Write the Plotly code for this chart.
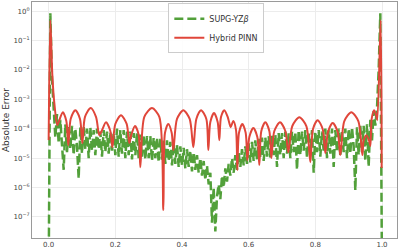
import numpy as np
import plotly.graph_objects as go

# ---------------- data ----------------
x_ticks = [0.0, 0.2, 0.4, 0.6, 0.8, 1.0]
x_tick_labels = ["0.0", "0.2", "0.4", "0.6", "0.8", "1.0"]
y_tick_exps = [0, -1, -2, -3, -4, -5, -6, -7]
y_tick_labels = ["10<sup>0</sup>", "10<sup>−1</sup>", "10<sup>−2</sup>", "10<sup>−3</sup>",
                 "10<sup>−4</sup>", "10<sup>−5</sup>", "10<sup>−6</sup>", "10<sup>−7</sup>"]

# SUPG-YZbeta: absolute error (log10) on a uniform mesh of 201 nodes on [0, 1]
supg_x = np.linspace(0.0, 1.0, 201)
supg_log10_err = [
    -9.0, -0.07, -2.3, -3.2, -4.3, -3.5, -4.5, -3.7, -4.6, -5.4,
    -3.85, -4.8, -3.95, -4.7, -3.9, -4.9, -4.0, -4.6, -5.7, -3.95,
    -4.85, -3.9, -4.7, -4.0, -5.0, -3.95, -4.75, -4.05, -4.9, -4.0,
    -4.7, -4.1, -4.95, -4.05, -4.8, -4.1, -4.85, -4.1, -4.75, -4.15,
    -4.9, -4.0, -4.95, -4.05, -4.85, -4.05, -5.0, -4.1, -4.9, -4.1,
    -5.05, -4.15, -4.9, -4.15, -5.0, -4.2, -4.95, -4.2, -5.05, -4.25,
    -5.0, -4.25, -5.1, -4.3, -5.0, -4.3, -5.15, -4.35, -5.05, -4.4,
    -5.2, -4.4, -5.1, -4.45, -5.25, -4.5, -5.2, -4.55, -5.3, -4.6,
    -5.25, -4.65, -5.35, -4.7, -5.3, -4.75, -5.45, -4.8, -5.4, -4.9,
    -5.5, -5.0, -5.6, -5.1, -5.75, -5.25, -5.9, -5.5, -7.2, -6.0,
    -7.5, -6.3, -5.9, -6.4, -5.6, -6.0, -5.35, -5.8, -5.2, -5.6,
    -5.0, -5.5, -4.9, -5.4, -4.8, -5.3, -4.7, -5.25, -4.6, -5.2,
    -4.5, -5.15, -4.45, -5.1, -4.4, -5.05, -4.35, -5.0, -4.3, -5.1,
    -4.3, -4.95, -4.25, -5.05, -4.2, -4.9, -4.2, -5.3, -4.15, -4.9,
    -4.15, -5.0, -4.1, -4.85, -4.15, -5.0, -4.1, -4.8, -4.1, -5.4,
    -4.05, -4.9, -4.1, -4.75, -4.05, -5.0, -4.1, -4.85, -4.05, -5.5,
    -4.1, -4.8, -4.05, -4.95, -4.1, -4.75, -4.0, -5.0, -4.05, -4.85,
    -4.0, -5.3, -4.05, -4.8, -4.0, -4.95, -4.05, -4.8, -4.0, -5.0,
    -4.0, -4.85, -3.95, -4.6, -6.1, -3.95, -4.9, -3.9, -4.8, -3.9,
    -5.1, -3.85, -5.3, -3.7, -4.4, -3.4, -3.9, -3.3, -2.0, -0.07,
    -9.0,
]

# Hybrid PINN: absolute error (log10), read along the arches
pinn_x = [
    0.000, 0.005, 0.011, 0.017, 0.026,
    0.031, 0.0425, 0.053, 0.059,
    0.066, 0.080, 0.094, 0.101,
    0.109, 0.126, 0.142, 0.152,
    0.159, 0.172, 0.185, 0.191,
    0.200, 0.217, 0.234, 0.242,
    0.248, 0.259, 0.270, 0.275,
    0.287, 0.310, 0.332, 0.344,
    0.349, 0.359, 0.369, 0.374,
    0.385, 0.404, 0.423, 0.434,
    0.443, 0.457, 0.473, 0.479,
    0.485, 0.496, 0.507, 0.512,
    0.517, 0.527, 0.537, 0.542,
    0.546, 0.554, 0.562, 0.566,
    0.571, 0.581, 0.591, 0.596,
    0.602, 0.614, 0.626, 0.632,
    0.638, 0.650, 0.662, 0.668,
    0.677, 0.694, 0.710, 0.719,
    0.731, 0.752, 0.773, 0.785,
    0.793, 0.807, 0.822, 0.830,
    0.838, 0.852, 0.867, 0.875,
    0.887, 0.908, 0.929, 0.941,
    0.945, 0.953, 0.961, 0.965,
    0.969, 0.976, 0.983, 0.986,
    0.996, 0.999,
]
pinn_log10_err = [
    -4.39, -0.31, -2.18, -3.13, -3.88,
    -3.74, -3.44, -3.74, -4.56,
    -3.67, -3.37, -3.67, -4.49,
    -3.60, -3.30, -3.60, -4.22,
    -4.08, -3.78, -4.08, -4.63,
    -3.84, -3.54, -3.84, -4.49,
    -4.21, -3.91, -4.21, -5.31,
    -3.60, -3.30, -3.60, -6.77,
    -4.14, -3.84, -4.14, -4.73,
    -3.67, -3.37, -3.67, -4.63,
    -3.67, -3.37, -3.67, -4.73,
    -3.77, -3.47, -3.77, -4.39,
    -3.60, -3.37, -3.60, -3.81,
    -3.95, -3.74, -4.04, -5.41,
    -4.14, -3.84, -4.14, -5.07,
    -4.28, -3.98, -4.28, -5.24,
    -4.08, -3.78, -4.08, -5.00,
    -4.08, -3.78, -4.08, -4.80,
    -3.91, -3.61, -3.91, -5.14,
    -4.01, -3.71, -4.01, -4.83,
    -4.11, -3.81, -4.11, -4.90,
    -3.74, -3.44, -3.74, -4.90,
    -4.40, -4.22, -4.40, -4.59,
    -3.67, -3.37, -3.55, -3.71,
    -0.31, -5.34,
]

series_names = ["SUPG-YZ<i>β</i>", "Hybrid PINN"]

# ---------------- figure ----------------
green = "#52a03a"
red = "#e0463a"

fig = go.Figure()
fig.add_trace(go.Scatter(
    x=supg_x, y=10.0 ** np.array(supg_log10_err), mode="lines",
    name=series_names[0],
    line=dict(color=green, width=2.5, dash="9px,4px"),
))
fig.add_trace(go.Scatter(
    x=pinn_x, y=10.0 ** np.array(pinn_log10_err), mode="lines",
    name=series_names[1],
    line=dict(color=red, width=2, shape="spline", smoothing=0.8),
))

axis_common = dict(
    showline=True, linecolor="#9a9a9a", linewidth=1, mirror=True,
    showgrid=True, gridcolor="#ececec", gridwidth=1,
    zeroline=False, ticks="", tickfont=dict(size=7, color="#444"),
)

fig.update_layout(
    width=400, height=249,
    margin=dict(l=32, r=3, t=2, b=11),
    paper_bgcolor="white", plot_bgcolor="white",
    font=dict(family="DejaVu Sans", size=8, color="#333"),
    showlegend=True,
    legend=dict(
        x=0.505, xanchor="center", y=0.995, yanchor="top",
        bgcolor="rgba(255,255,255,0.9)", bordercolor="#cccccc", borderwidth=1,
        font=dict(size=8, color="#333"), tracegroupgap=0,
        itemwidth=30,
    ),
    xaxis=dict(
        range=[-0.05, 1.045], tickvals=x_ticks, ticktext=x_tick_labels,
        automargin=False, **axis_common,
    ),
    yaxis=dict(
        type="log", range=[-7.72, 0.31],
        tickvals=[10.0 ** e for e in y_tick_exps], ticktext=y_tick_labels,
        title=dict(text="Absolute Error", font=dict(size=9, color="#333"), standoff=2),
        automargin=False, **axis_common,
    ),
)

fig.write_html("out.html")
